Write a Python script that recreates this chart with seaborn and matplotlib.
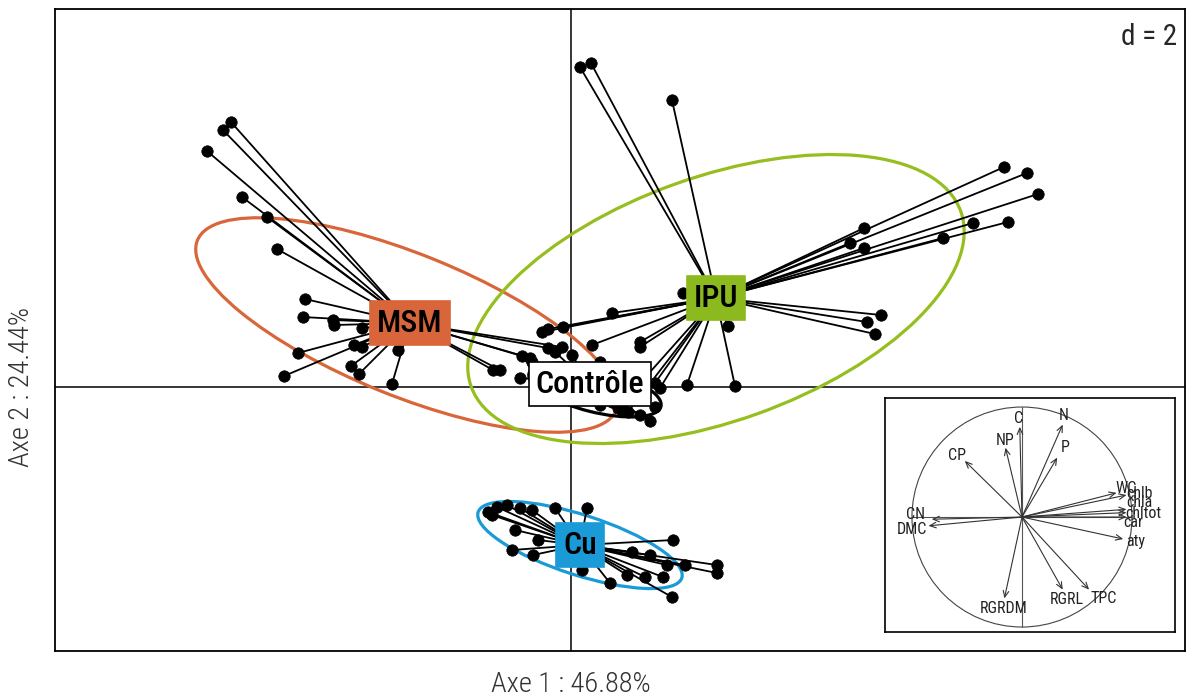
import numpy as np
import pandas as pd
import seaborn as sns
import matplotlib.pyplot as plt
from matplotlib import font_manager as fm
from matplotlib.patches import Ellipse, Circle
from matplotlib.collections import LineCollection

# Groups (class centres and their colours)
groups = ['MSM', 'IPU', 'Contrôle', 'Cu']
box_colors = ['#D9663A', '#8CBA1E', '#FFFFFF', '#1A9AD6']
ell_colors = ['#D9663A', '#95BE1E', '#000000', '#1A9AD6']
centre_x = [-1.61, 1.45, 0.19, 0.09]
centre_y = [0.64, 0.89, 0.03, -1.58]

# Ellipses (centre, semi axes, angle in degrees)
ell_x = [-1.64, 1.45, 0.24, 0.09]
ell_y = [0.62, 0.88, -0.03, -1.58]
ell_a = [2.26, 2.60, 0.68, 1.07]
ell_b = [0.71, 1.22, 0.22, 0.30]
ell_angle = [-22, 19.7, -14, -17.9]

# Individual scores, one pair of lists per group
msm_x = [-3.40, -3.48, -3.64, -3.29, -3.04, -2.94, -2.66, -2.68, -2.38, -2.37, -2.09,
         -2.73, -2.87, -2.17, -2.09, -2.20, -2.12, -1.73, -1.79,
         -0.78, -0.71, -0.49, -0.41, -0.23, -0.09]
msm_y = [2.65, 2.57, 2.36, 1.90, 1.70, 1.38, 0.88, 0.70, 0.67, 0.62, 0.59,
         0.34, 0.11, 0.42, 0.40, 0.21, 0.13, 0.37, 0.03,
         0.17, 0.17, 0.31, 0.29, 0.39, 0.40]
ipu_x = [0.09, 0.20, 1.01, 4.33, 4.56, 4.67, 2.93, 2.79, 2.93, 4.02, 3.72, 4.37,
         3.10, 2.96, 3.04, 1.12, 1.57, 1.64, 1.16, 0.41, -0.08, -0.29, -0.23,
         0.21, 0.69, 0.69, 0.84, 0.89, 0.47, 0.57]
ipu_y = [3.20, 3.24, 2.87, 2.20, 2.14, 1.93, 1.59, 1.44, 1.39, 1.64, 1.49, 1.65,
         0.72, 0.65, 0.53, 0.94, 0.61, 0.01, 0.02, 0.74, 0.60, 0.55, 0.58,
         0.42, 0.45, 0.40, 0.04, -0.01, -0.21, -0.25]
ctrl_x = [-0.51, -0.39, -0.16, 0.01, 0.29, 0.41, 0.51, 0.69, 0.79, 0.84, 0.29, 0.04]
ctrl_y = [0.09, 0.25, 0.35, 0.32, 0.25, -0.15, -0.23, -0.28, -0.34, -0.20, -0.18, -0.11]
cu_x = [-0.83, -0.74, -0.64, -0.51, -0.39, -0.16, 0.16, -0.79, -0.56, -0.33, -0.59,
        -0.38, 1.02, 0.61, 0.79, 0.96, 1.14, 1.46, 1.46, 0.11, 0.39, 0.56, 0.74,
        0.92, 1.01]
cu_y = [-1.25, -1.20, -1.18, -1.21, -1.23, -1.21, -1.21, -1.28, -1.43, -1.53, -1.63,
        -1.68, -1.53, -1.65, -1.68, -1.78, -1.78, -1.78, -1.86, -1.83, -1.96, -1.88,
        -1.90, -1.90, -2.10]

# Correlation circle (inset)
var_names = ['C', 'N', 'NP', 'P', 'CP', 'WC', 'chlb', 'chla', 'chltot', 'car',
             'aty', 'CN', 'DMC', 'RGRDM', 'RGRL', 'TPC']
var_x = [-0.02, 0.37, -0.15, 0.32, -0.52, 0.86, 0.95, 0.95, 0.95, 0.95,
         0.92, -0.82, -0.85, -0.16, 0.37, 0.61]
var_y = [0.82, 0.84, 0.63, 0.54, 0.51, 0.22, 0.20, 0.07, 0.04, 0.00,
         -0.20, -0.02, -0.08, -0.74, -0.66, -0.66]
lab_x = [-0.03, 0.38, -0.15, 0.39, -0.59, 0.95, 1.07, 1.07, 1.10, 1.01,
         1.03, -0.97, -1.00, -0.17, 0.41, 0.74]
lab_y = [0.90, 0.92, 0.70, 0.63, 0.56, 0.26, 0.21, 0.13, 0.03, -0.05,
         -0.22, 0.02, -0.11, -0.83, -0.75, -0.74]

points = {'MSM': (msm_x, msm_y), 'IPU': (ipu_x, ipu_y),
          'Contrôle': (ctrl_x, ctrl_y), 'Cu': (cu_x, cu_y)}
df = pd.concat([pd.DataFrame({'group': g, 'x': xs, 'y': ys})
                for g, (xs, ys) in points.items()], ignore_index=True)

sns.set_style('white')

# pick a narrow sans if one is installed
installed = {(f.name, f.stretch) for f in fm.fontManager.ttflist}
names = {n for n, s in installed}
stretch = 'normal'
if 'Liberation Sans Narrow' in names:
    family = 'Liberation Sans Narrow'
elif 'Roboto Condensed' in names:
    family = 'Roboto Condensed'
elif ('DejaVu Sans', 'condensed') in installed or ('DejaVu Sans', 'semi-condensed') in installed:
    family = 'DejaVu Sans'
    stretch = 'condensed'
else:
    family = 'Roboto'
plt.rcParams['font.family'] = [family, 'DejaVu Sans']
plt.rcParams['font.stretch'] = stretch

fig = plt.figure(figsize=(11.87, 6.98), dpi=100)
ax = fig.add_axes([0.0463, 0.0673, 0.952, 0.9198])
ax.set_xlim(-5.16, 6.14)
ax.set_ylim(-2.64, 3.78)

ax.axhline(0, color='black', lw=1.1, zorder=0)
ax.axvline(0, color='black', lw=1.1, zorder=0)

# star lines from each individual to its class centre
for i, g in enumerate(groups):
    sub = df[df['group'] == g]
    segs = [[(x, y), (centre_x[i], centre_y[i])] for x, y in zip(sub['x'], sub['y'])]
    ax.add_collection(LineCollection(segs, colors='black', linewidths=1.3, zorder=2))

sns.scatterplot(data=df, x='x', y='y', color='black', s=68, edgecolor='black',
                linewidth=0.5, legend=False, ax=ax, zorder=3)

for i, g in enumerate(groups):
    ax.add_patch(Ellipse((ell_x[i], ell_y[i]), 2 * ell_a[i], 2 * ell_b[i],
                         angle=ell_angle[i], fill=False, ec=ell_colors[i],
                         lw=2.3, zorder=1.5))

for i, g in enumerate(groups):
    ax.text(centre_x[i], centre_y[i], g, ha='center', va='center', fontsize=23,
            color='black', zorder=5, fontweight='medium',
            bbox=dict(boxstyle='square,pad=0.22', fc=box_colors[i],
                      ec='black' if g == 'Contrôle' else box_colors[i], lw=1.2))

ax.text(0.993, 0.978, 'd = 2', transform=ax.transAxes, ha='right', va='top',
        fontsize=21)
ax.set_xticks([])
ax.set_yticks([])
ax.set_xlabel('')
ax.set_ylabel('')
for sp in ax.spines.values():
    sp.set_color('black')
    sp.set_linewidth(1.3)

ax.text(0.4566, -0.052, 'Axe 1 : 46.88%', transform=ax.transAxes, ha='center',
        va='center', fontsize=20.5, color='#333333', fontweight='light')
ax.text(-0.0295, 0.411, 'Axe 2 : 24.44%', transform=ax.transAxes, ha='center',
        va='center', fontsize=20.5, rotation=90, color='#333333', fontweight='light')

# inset correlation circle
ins = fig.add_axes([0.7456, 0.0946, 0.2443, 0.3352])
ins.set_xlim(-1.245, 1.391)
ins.set_ylim(-1.045, 1.082)
ins.set_facecolor('white')
ins.add_patch(Circle((0, 0), 1, fill=False, ec='#444444', lw=0.8))
ins.plot([-1, 1], [0, 0], color='#555555', lw=0.8)
ins.plot([0, 0], [-1, 1], color='#555555', lw=0.8)
for i, name in enumerate(var_names):
    ins.annotate('', xy=(var_x[i], var_y[i]), xytext=(0, 0),
                 arrowprops=dict(arrowstyle='->,head_length=0.45,head_width=0.2',
                                 color='#333333', lw=0.8, shrinkA=0, shrinkB=0))
    ins.text(lab_x[i], lab_y[i], name, ha='center', va='center', fontsize=11.5,
             color='#222222')
ins.set_xticks([])
ins.set_yticks([])
for sp in ins.spines.values():
    sp.set_color('black')
    sp.set_linewidth(1.2)

fig.savefig('out.png', dpi=100)
